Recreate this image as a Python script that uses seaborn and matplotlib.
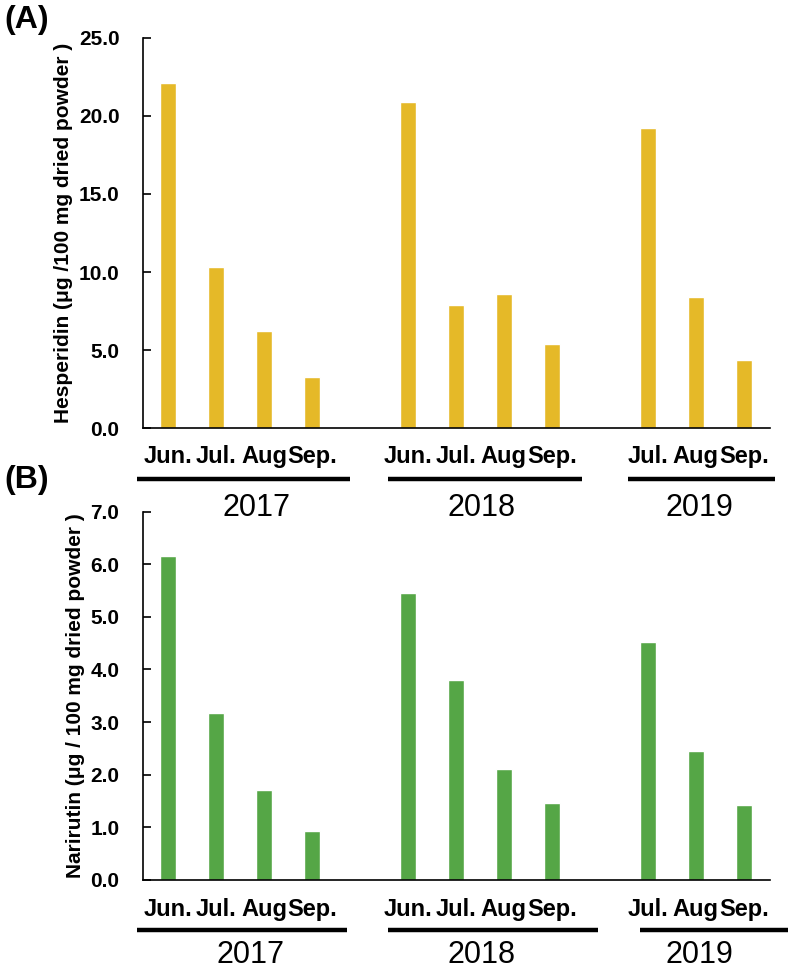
import matplotlib
matplotlib.use("Agg")
import matplotlib.pyplot as plt
import matplotlib.transforms as mtransforms
import seaborn as sns
import pandas as pd

# Data
years = ["2017", "2018", "2019"]
months_2017 = ["Jun.", "Jul.", "Aug", "Sep."]
months_2018 = ["Jun.", "Jul.", "Aug", "Sep."]
months_2019 = ["Jul.", "Aug", "Sep."]

hesperidin_2017 = [22.1, 10.3, 6.2, 3.3]
hesperidin_2018 = [20.9, 7.9, 8.6, 5.4]
hesperidin_2019 = [19.2, 8.4, 4.4]

narirutin_2017 = [6.15, 3.17, 1.70, 0.92]
narirutin_2018 = [5.45, 3.80, 2.10, 1.47]
narirutin_2019 = [4.52, 2.45, 1.43]

YELLOW = "#E5B928"
GREEN = "#55A646"

sns.set_style("white")
plt.rcParams["font.family"] = ["Liberation Sans", "DejaVu Sans"]
plt.rcParams["text.color"] = "black"
plt.rcParams["axes.labelcolor"] = "black"
plt.rcParams["xtick.color"] = "black"
plt.rcParams["ytick.color"] = "black"


def build_frame(v17, v18, v19):
    rows = []
    for y, months, vals in zip(years, [months_2017, months_2018, months_2019], [v17, v18, v19]):
        for m, v in zip(months, vals):
            rows.append({"slot": f"{y} {m}", "month": m, "value": v})
    return pd.DataFrame(rows)


# slot order with empty gaps between years (2019 has no June)
order = ([f"2017 {m}" for m in months_2017] + ["gap1"] +
         [f"2018 {m}" for m in months_2018] + ["gap2"] +
         [f"2019 {m}" for m in months_2019])
tick_labels = [s.split(" ")[1] if " " in s else "" for s in order]

fig = plt.figure(figsize=(7.9, 9.69), dpi=100)
axA = fig.add_axes([0.181, 0.558, 0.794, 0.403])
axB = fig.add_axes([0.181, 0.092, 0.794, 0.380])


def draw_panel(ax, df, color, ymax, yticks, ylabel, month_pad, line_y, year_y, lines, year_x):
    ax.patch.set_alpha(0)
    sns.barplot(data=df, x="slot", y="value", order=order, color=color,
                width=0.33, saturation=1, ax=ax, errorbar=None)
    ax.set_xlim(-0.52, 12.55)
    ax.set_ylim(0, ymax)
    ax.set_yticks(yticks)
    ax.yaxis.set_major_formatter(matplotlib.ticker.FormatStrFormatter("%.1f"))
    ax.set_xticks(range(len(order)))
    ax.set_xticklabels(tick_labels, fontsize=17, fontweight="bold")
    ax.set_xlabel("")
    ax.set_ylabel(ylabel, fontsize=15, fontweight="bold", labelpad=4)
    sns.despine(ax=ax)
    for side in ["left", "bottom"]:
        ax.spines[side].set_linewidth(1.2)
        ax.spines[side].set_color("black")
    ax.tick_params(axis="x", length=0, pad=month_pad)
    ax.tick_params(axis="y", direction="in", length=6, width=1.2,
                   labelsize=15, pad=17, left=True)
    for lab in ax.get_yticklabels():
        lab.set_fontweight("bold")

    trans = mtransforms.blended_transform_factory(ax.transData, ax.transAxes)
    for (x0, x1), xc, yr in zip(lines, year_x, years):
        ax.plot([x0, x1], [line_y, line_y], color="black", lw=3.2,
                transform=trans, clip_on=False, solid_capstyle="butt")
        ax.text(xc, year_y, yr, transform=trans, ha="center", va="center",
                fontsize=22)


dfA = build_frame(hesperidin_2017, hesperidin_2018, hesperidin_2019)
dfB = build_frame(narirutin_2017, narirutin_2018, narirutin_2019)

draw_panel(axA, dfA, YELLOW, 25, [0, 5, 10, 15, 20, 25],
           "Hesperidin (\u03bcg /100 mg dried powder )",
           month_pad=12, line_y=-0.131, year_y=-0.205,
           lines=[(-0.65, 3.79), (4.58, 8.63), (9.58, 12.65)],
           year_x=[1.85, 6.54, 11.08])

draw_panel(axB, dfB, GREEN, 7, [0, 1, 2, 3, 4, 5, 6, 7],
           "Narirutin (\u03bcg / 100 mg dried powder )",
           month_pad=13, line_y=-0.136, year_y=-0.204,
           lines=[(-0.65, 3.73), (4.58, 8.96), (9.83, 12.92)],
           year_x=[1.73, 6.54, 11.08])

fig.text(0.006, 0.979, "(A)", fontsize=23, fontweight="bold", va="center")
fig.text(0.006, 0.505, "(B)", fontsize=23, fontweight="bold", va="center")

fig.savefig("out.png", dpi=100)
